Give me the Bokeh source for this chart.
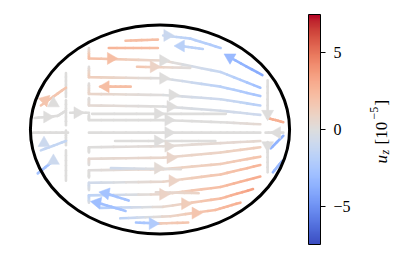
import numpy as np
from bokeh.plotting import figure
from bokeh.models import (ColumnDataSource, Range1d, LinearColorMapper, ColorBar,
                          FixedTicker, Label)
from bokeh.transform import linear_cmap
from bokeh.embed import file_html
from bokeh.resources import INLINE

# ---------------- data ----------------
UZ_LOW, UZ_HIGH = -7.45, 7.45
CBAR_TICKS = [-5, 0, 5]
CBAR_TICK_LABELS = {-5: "\u22125", 0: "0", 5: "5"}

ELLIPSE_A = 1.24
ELLIPSE_B = 1.0

# streamlines: x, y control points and u_z (1e-5) along each line
SL_X = [
    [-0.68, -0.68, 0.03, 0.58, 0.96],
    [-0.68, -0.68, 0.03, 0.58, 0.96],
    [-0.68, -0.68, 0.03, 0.58, 0.96],
    [-0.68, -0.68, 0.03, 0.58, 0.96],
    [-0.68, -0.68, 0.03, 0.58, 0.96],
    [-0.68, 0.03, 0.58, 0.96],
    [-0.68, -0.68, 0.03, 0.58, 0.96],
    [-0.68, -0.68, 0.03, 0.58, 0.96],
    [-0.68, -0.68, 0.03, 0.58, 0.96],
    [-0.68, -0.68, 0.03, 0.58, 0.96],
    [-0.68, -0.68, 0.03, 0.58, 0.96],
    [-0.57, 0.03, 0.58, 0.89],
    [-0.38, 0.10, 0.53, 0.77],
    [-0.33, -0.02],
    [0.03, 0.29, 0.58],
    [-0.49, -0.02],
    [0.20, 0.41],
    [-0.22, 0.29],
    [0.67, 0.98],
    [-0.57, -0.28],
    [-0.65, 0.63],
    [-0.43, 0.53],
    [-0.47, 0.20],
    [-0.04, 0.37],
    [-0.52, -0.30],
    [-0.60, -0.33],
    [-0.23, 0.00],
    [-0.04, 0.27],
    [-0.90, -0.90],
    [-0.90, -0.90],
    [-0.90, -0.90],
    [-0.90, -0.90],
    [-0.90, -1.14],
    [-0.90, -0.98, -1.20],
    [-0.88, -1.22],
    [-0.90, -1.14],
    [-1.02, -1.17],
    [-0.86, -0.68],
    [1.03, 1.03],
    [1.03, 1.03],
    [1.03, 1.18],
    [1.18, 1.01],
    [1.06, 1.18],
    [1.08, 1.17],
]
SL_Y = [
    [0.78, 0.68, 0.66, 0.55, 0.40],
    [0.60, 0.50, 0.49, 0.41, 0.32],
    [0.44, 0.34, 0.33, 0.29, 0.23],
    [0.30, 0.23, 0.22, 0.18, 0.14],
    [0.14, 0.09, 0.09, 0.07, 0.05],
    [-0.03, -0.03, -0.03, -0.03],
    [-0.22, -0.17, -0.16, -0.13, -0.11],
    [-0.34, -0.28, -0.27, -0.22, -0.17],
    [-0.46, -0.39, -0.38, -0.33, -0.26],
    [-0.58, -0.51, -0.50, -0.43, -0.34],
    [-0.70, -0.63, -0.62, -0.55, -0.45],
    [-0.75, -0.74, -0.66, -0.57],
    [-0.85, -0.83, -0.77, -0.70],
    [0.85, 0.86],
    [0.90, 0.87, 0.78],
    [0.78, 0.78],
    [0.80, 0.77],
    [0.60, 0.59],
    [0.69, 0.52],
    [0.41, 0.41],
    [0.15, 0.15],
    [-0.11, -0.11],
    [-0.37, -0.38],
    [-0.60, -0.61],
    [-0.61, -0.68],
    [-0.70, -0.78],
    [-0.89, -0.90],
    [-0.90, -0.89],
    [0.54, 0.31],
    [0.28, 0.04],
    [-0.01, -0.15],
    [-0.20, -0.49],
    [0.40, 0.23],
    [0.18, 0.13, 0.11],
    [-0.03, -0.03],
    [-0.11, -0.20],
    [-0.30, -0.42],
    [0.16, 0.16],
    [0.47, 0.11],
    [-0.12, -0.41],
    [0.11, 0.07],
    [-0.03, -0.03],
    [-0.18, -0.06],
    [-0.41, -0.30],
]
SL_UZ = [
    [0, 2.2, 0.5, -1.2, -3.0],
    [0, 1.3, 0, -1.7, -2.6],
    [0, 0.8, 0, -0.9, -1.8],
    [0, 0.4, 0, -0.5, -0.9],
    [0, 0, 0, 0, 0.4],
    [0, 0, 0, 0],
    [0, 0, 0.3, 0.4, 0.5],
    [0, 0.4, 0.7, 0.9, 1.3],
    [0, 0, 0.8, 1.3, 1.8],
    [0, -0.8, 0.7, 1.7, 2.6],
    [0, -1.7, 0.8, 2.2, 3.0],
    [-2.2, 0.5, 2.2, 3.5],
    [-1.8, 0.8, 2.2, 2.8],
    [2.2, 2.2],
    [-1, -1.8, -2.2],
    [2.6, 2.2],
    [-1.8, -1.8],
    [1.8, 0],
    [-3.2, -4.0],
    [2.2, 2.2],
    [0, 0],
    [0, 0],
    [-0.9, 0.4],
    [0.4, 0.9],
    [-2.7, -2.7],
    [-3.0, -2.7],
    [-2.7, -2.2],
    [1.3, 1.8],
    [0, 0],
    [0, 0],
    [0, 0],
    [0, 0],
    [1.8, 1.8],
    [0, 0, 0],
    [0, 0],
    [-1.3, -1.3],
    [-2.7, -2.7],
    [0, 0],
    [0, 0],
    [0, 0],
    [2.8, 2.8],
    [0, 0],
    [-3.6, -3.6],
    [-3.2, -3.2],
]

# arrow heads: position, direction (degrees, 0 = pointing right), u_z
AR_X = [0.07, 0.20, -0.47, 0.03, -0.06, 0.67, 0.03, -0.52, 0.12, 0.10, -0.02, 0.08,
        -0.79, 0.08, -0.02, 0.08, 0.10, -0.02, 0.12, 0.03, -0.52, -0.60, 0.24, 0.34,
        -0.07, -1.10, -1.02, -1.08, -1.11, -1.02, 1.03, 1.12, 1.03]
AR_Y = [0.90, 0.80, 0.68, 0.66, 0.60, 0.69, 0.49, 0.41, 0.33, 0.22, 0.15, 0.09,
        0.16, -0.03, -0.11, -0.16, -0.27, -0.37, -0.49, -0.62, -0.61, -0.70, -0.71, -0.80,
        -0.90, 0.28, 0.25, 0.12, -0.13, -0.30, 0.15, -0.03, -0.15]
AR_DIR = [0, 180, 0, 0, 0, 150, 0, 180, 0, 0, 0, 0,
          0, 0, 0, 0, 0, 0, 0, 0, 170, 170, 0, 0,
          0, 45, 90, 0, 90, 90, 270, 180, 270]
AR_UZ = [-1, -1.8, 2.2, 0, 0.9, -3.2, 0, 2.2, 0, 0, 0, 0,
         0, 0, 0, 0.3, 0.7, 0.3, 0.9, 0.9, -2.7, -3.0, 1.3, 1.8,
         -2.2, 1.8, 0, 0, -0.9, -0.9, 0, 0, 0]

# ---------------- colormap (coolwarm) ----------------
_CW = [(59, 76, 192), (68, 90, 204), (77, 104, 215), (87, 117, 225), (98, 130, 234),
       (108, 142, 241), (119, 154, 247), (130, 165, 251), (141, 176, 254), (152, 185, 255),
       (163, 194, 255), (174, 201, 253), (184, 208, 249), (194, 213, 244), (204, 217, 238),
       (213, 219, 230), (221, 221, 221), (229, 216, 209), (236, 211, 197), (241, 204, 184),
       (245, 196, 172), (247, 187, 160), (247, 177, 148), (247, 166, 137), (244, 154, 123),
       (241, 141, 112), (236, 127, 99), (229, 112, 88), (222, 96, 77), (213, 80, 66),
       (203, 62, 56), (192, 40, 47), (180, 4, 38)]
_cw = np.array(_CW, dtype=float)
_pos = np.linspace(0, 1, len(_CW))
_t = np.linspace(0, 1, 256)
COOLWARM = ["#%02x%02x%02x" % tuple(int(round(np.interp(v, _pos, _cw[:, c]))) for c in range(3))
            for v in _t]

# ---------------- build segments ----------------
seg_xs, seg_ys, seg_uz = [], [], []
NSUB = 6
for xs, ys, uz in zip(SL_X, SL_Y, SL_UZ):
    for i in range(len(xs) - 1):
        for k in range(NSUB):
            t0, t1 = k / NSUB, (k + 1) / NSUB
            seg_xs.append([xs[i] + (xs[i + 1] - xs[i]) * t0, xs[i] + (xs[i + 1] - xs[i]) * t1])
            seg_ys.append([ys[i] + (ys[i + 1] - ys[i]) * t0, ys[i] + (ys[i + 1] - ys[i]) * t1])
            seg_uz.append(uz[i] + (uz[i + 1] - uz[i]) * (t0 + t1) / 2)

lines_src = ColumnDataSource(dict(xs=seg_xs, ys=seg_ys, uz=seg_uz))
arrows_src = ColumnDataSource(dict(x=AR_X, y=AR_Y, uz=AR_UZ,
                                   ang=[np.radians(d - 90) for d in AR_DIR]))

# ---------------- figure ----------------
W, H = 398, 251
PX = 104.5
x0 = -159.5 / PX
y1 = 129 / PX
p = figure(width=W, height=H, x_range=Range1d(x0, x0 + W / PX), y_range=Range1d(y1 - H / PX, y1),
           output_backend="svg", toolbar_location=None, min_border=0,
           x_axis_location=None, y_axis_location=None)
p.grid.visible = False
p.outline_line_color = None
p.background_fill_color = "white"

mapper = linear_cmap("uz", COOLWARM, UZ_LOW, UZ_HIGH)
p.multi_line(xs="xs", ys="ys", source=lines_src, line_color=mapper, line_width=2.6,
             line_cap="round")
p.scatter(x="x", y="y", source=arrows_src, marker="triangle", size=12, angle="ang",
          fill_color=mapper, line_color=mapper, line_width=0.5)

p.ellipse(x=[0], y=[0], width=[2 * ELLIPSE_A], height=[2 * ELLIPSE_B],
          fill_color=None, line_color="black", line_width=3)

cmap = LinearColorMapper(palette=COOLWARM, low=UZ_LOW, high=UZ_HIGH)
cb = ColorBar(color_mapper=cmap, location=(308, 7), width=12, height=230, padding=0,
              ticker=FixedTicker(ticks=CBAR_TICKS), major_label_overrides=CBAR_TICK_LABELS,
              major_label_text_font="Liberation Serif", major_label_text_font_size="16px",
              major_label_text_color="black", label_standoff=8,
              major_tick_in=0, major_tick_out=5, major_tick_line_color="black",
              major_tick_line_width=1, minor_tick_line_color=None,
              bar_line_color="black", bar_line_width=1,
              border_line_color=None, background_fill_alpha=0)
p.add_layout(cb)

def lab(text, px, py, size, style="normal"):
    p.add_layout(Label(x=px, y=H - py, x_units="screen", y_units="screen", text=text,
                       angle=np.pi / 2, text_align="left", text_baseline="alphabetic",
                       text_font="Liberation Serif", text_font_size=size,
                       text_font_style=style, text_color="black"))

lab("u", 381, 163, "17px", "italic")
lab("z", 384, 154, "12px", "italic")
lab("[10", 381, 144, "17px")
lab("\u22125", 373, 119, "12px")
lab("]", 381, 105, "17px")

open("out.html", "w").write(file_html(p, INLINE))
